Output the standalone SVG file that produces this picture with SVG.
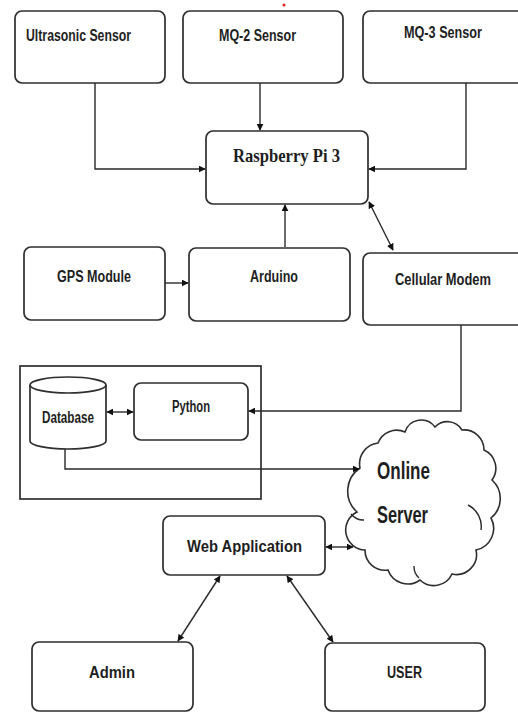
<svg xmlns="http://www.w3.org/2000/svg" width="518" height="713" viewBox="0 0 518 713">
<defs>
<marker id="ah" viewBox="0 0 10 10" refX="9" refY="5" markerWidth="7" markerHeight="7" markerUnits="userSpaceOnUse" orient="auto-start-reverse">
<path d="M0 0 L10 5 L0 10 Z" fill="#111"/>
</marker>
<style>
.box{fill:#fff;stroke:#2e2e2e;stroke-width:1.7}
.lbl{font-family:"Liberation Sans",Arial,sans-serif;font-weight:bold;font-size:16px;fill:#1e1e1e}
.big{font-size:23px}
.serif{font-family:"Liberation Serif","Times New Roman",serif;font-size:19px}
.ln{fill:none;stroke:#2a2a2a;stroke-width:1.4}
.cl{fill:#fff;stroke:#2e2e2e;stroke-width:1.6}
</style>
</defs>
<rect width="518" height="713" fill="#fff"/>
<circle cx="284" cy="5" r="1.5" fill="#e02020"/>

<g id="container">
<rect x="20" y="366" width="241" height="133" fill="none" stroke="#2e2e2e" stroke-width="1.7"/>
</g>

<g id="ultrasonic">
<rect class="box" x="15" y="11" width="150" height="72" rx="7"/>
<text class="lbl" x="26" y="41" textLength="105" lengthAdjust="spacingAndGlyphs">Ultrasonic Sensor</text>
</g>
<g id="mq2">
<rect class="box" x="183" y="11" width="160" height="72" rx="7"/>
<text class="lbl" x="219" y="41" textLength="77" lengthAdjust="spacingAndGlyphs">MQ-2 Sensor</text>
</g>
<g id="mq3">
<rect class="box" x="363" y="11" width="162" height="72" rx="7"/>
<text class="lbl" x="404" y="38" textLength="78" lengthAdjust="spacingAndGlyphs">MQ-3 Sensor</text>
</g>
<g id="raspberry">
<rect class="box" x="206" y="131" width="162" height="73" rx="7"/>
<text class="lbl serif" x="233" y="162" textLength="107" lengthAdjust="spacingAndGlyphs">Raspberry Pi 3</text>
</g>
<g id="gps">
<rect class="box" x="24" y="247" width="141" height="73" rx="7"/>
<text class="lbl" x="57" y="282" textLength="74" lengthAdjust="spacingAndGlyphs">GPS Module</text>
</g>
<g id="arduino">
<rect class="box" x="189" y="248" width="161" height="73" rx="7"/>
<text class="lbl" x="250" y="282" textLength="48" lengthAdjust="spacingAndGlyphs">Arduino</text>
</g>
<g id="cellular">
<rect class="box" x="363" y="253" width="162" height="72" rx="7"/>
<text class="lbl" x="395" y="285" textLength="96" lengthAdjust="spacingAndGlyphs">Cellular Modem</text>
</g>
<g id="database">
<path class="box" d="M30 385 V441 A38 8 0 0 0 106 441 V385"/>
<ellipse class="box" cx="68" cy="385" rx="38" ry="8"/>
<text class="lbl" x="42" y="423" textLength="52" lengthAdjust="spacingAndGlyphs">Database</text>
</g>
<g id="python">
<rect class="box" x="134" y="383" width="114" height="57" rx="7"/>
<text class="lbl" x="172" y="412" textLength="38" lengthAdjust="spacingAndGlyphs">Python</text>
</g>
<g id="online-server">
<path class="cl" d="M360 468 A21 21 0 0 1 378 443 A20 20 0 0 1 405 432 A17 17 0 0 1 435 427 A17 17 0 0 1 462 430 A20 20 0 0 1 484 450 A20 20 0 0 1 492 480 A25 25 0 0 1 491 518 A22 22 0 0 1 476 550 A20 20 0 0 1 452 574 A20 20 0 0 1 420 580 A21 21 0 0 1 388 570 A20 20 0 0 1 365 550 A20 20 0 0 1 357 512 A28 28 0 0 1 360 468 Z"/>
<path class="ln" d="M468 505 A24 24 0 0 1 481 530 M351 514 A16 16 0 0 0 364 520 M419 578 A16 16 0 0 1 414 566"/>
<text class="lbl big" x="377" y="479" textLength="53" lengthAdjust="spacingAndGlyphs">Online</text>
<text class="lbl big" x="377" y="523" textLength="51" lengthAdjust="spacingAndGlyphs">Server</text>
</g>
<g id="webapp">
<rect class="box" x="163" y="516" width="162" height="59" rx="7"/>
<text class="lbl" x="187" y="552" textLength="115" lengthAdjust="spacingAndGlyphs">Web Application</text>
</g>
<g id="admin">
<rect class="box" x="32" y="642" width="161" height="69" rx="7"/>
<text class="lbl" x="89" y="678" textLength="46" lengthAdjust="spacingAndGlyphs">Admin</text>
</g>
<g id="user">
<rect class="box" x="325" y="643" width="160" height="68" rx="7"/>
<text class="lbl" x="387" y="678" textLength="35" lengthAdjust="spacingAndGlyphs">USER</text>
</g>

<g id="connectors">
<path class="ln" d="M95 83 V169 H205" marker-end="url(#ah)"/>
<path class="ln" d="M260 83 V130" marker-end="url(#ah)"/>
<path class="ln" d="M466 83 V169 H369" marker-end="url(#ah)"/>
<path class="ln" d="M285 247 V205" marker-end="url(#ah)"/>
<path class="ln" d="M369 202 L393 250" marker-start="url(#ah)" marker-end="url(#ah)"/>
<path class="ln" d="M165 283 H188" marker-end="url(#ah)"/>
<path class="ln" d="M461 325 V411 H249" marker-end="url(#ah)"/>
<path class="ln" d="M107 412 H133" marker-start="url(#ah)" marker-end="url(#ah)"/>
<path class="ln" d="M65 449 V469 H359" marker-end="url(#ah)"/>
<path class="ln" d="M326 547 H353" marker-start="url(#ah)" marker-end="url(#ah)"/>
<path class="ln" d="M220 576 L178 641" marker-start="url(#ah)" marker-end="url(#ah)"/>
<path class="ln" d="M287 576 L333 642" marker-start="url(#ah)" marker-end="url(#ah)"/>
</g>
</svg>
